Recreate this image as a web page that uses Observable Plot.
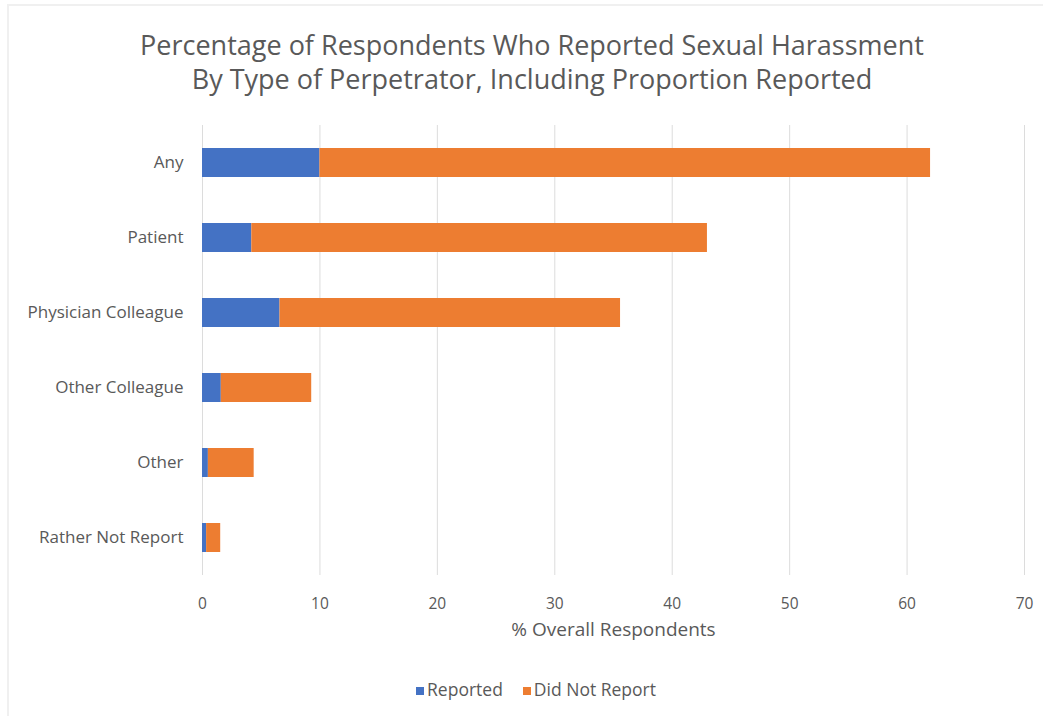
<!DOCTYPE html>
<html>
<head>
<meta charset="utf-8">
<script src="https://cdn.jsdelivr.net/npm/d3@7"></script>
<script src="https://cdn.jsdelivr.net/npm/@observablehq/plot@0.6"></script>
<style>
  html, body { margin: 0; padding: 0; background: #fff; }
  #frame { position: relative; width: 1049px; height: 723px; overflow: hidden; font-family: "Open Sans", sans-serif; color: #595959; }
  #border { position: absolute; left: 7px; top: 4px; width: 1036px; height: 712px; border-left: 2px solid #f0f0f0; border-top: 2px solid #f0f0f0; box-sizing: border-box; }
  #title { position: absolute; left: 0; width: 1064px; top: 28px; text-align: center; font-size: 27px; line-height: 34px; color: #595959; }
  #chart { position: absolute; left: 0; top: 110px; }
  #legend { position: absolute; top: 677px; left: 0; width: 1072px; text-align: center; font-size: 17.5px; color: #595959; }
  #legend span.item { margin: 0 10px; }
  #legend span.sw { display: inline-block; width: 8px; height: 8px; margin-right: 3px; vertical-align: 1px; }
</style>
</head>
<body>
<div id="frame">
  <div id="border"></div>
  <div id="title">Percentage of Respondents Who Reported Sexual Harassment<br>By Type of Perpetrator, Including Proportion Reported</div>
  <div id="chart"></div>
  <div id="legend"></div>
</div>
<script>
const categories = ["Any", "Patient", "Physician Colleague", "Other Colleague", "Other", "Rather Not Report"];
const series = ["Reported", "Did Not Report"];
const reported = [10.0, 4.2, 6.6, 1.6, 0.5, 0.35];
const didNotReport = [52.0, 38.8, 29.0, 7.7, 3.9, 1.2];
const xTicks = [0, 10, 20, 30, 40, 50, 60, 70];
const colors = ["#4472C4", "#ED7D31"];

const rows = [];
categories.forEach((c, i) => rows.push({category: c, series: series[0], value: reported[i]}));
categories.forEach((c, i) => rows.push({category: c, series: series[1], value: didNotReport[i]}));

const chart = Plot.plot({
  width: 1049,
  height: 540,
  marginLeft: 202,
  marginRight: 25,
  marginTop: 15,
  marginBottom: 75,
  style: {fontFamily: "Open Sans, sans-serif", fontSize: "17px", color: "#595959", background: "transparent"},
  x: {domain: [0, 70], ticks: xTicks, tickSize: 0, tickPadding: 22, label: "% Overall Respondents", labelAnchor: "center", labelArrow: "none", labelOffset: 60},
  y: {domain: categories, paddingInner: 0.62, paddingOuter: 0.31, tickSize: 0, tickPadding: 19, label: null},
  color: {domain: series, range: colors},
  marks: [
    Plot.gridX(xTicks, {stroke: "#dcdcdc", strokeOpacity: 1, strokeWidth: 1}),
    Plot.barX(rows, Plot.stackX({x: "value", y: "category", fill: "series", order: series}))
  ]
});
document.getElementById("chart").appendChild(chart);
chart.querySelectorAll("g[aria-label='x-axis label']").forEach(e => e.style.fontSize = "19px");
chart.querySelectorAll("g[aria-label='x-axis tick label']").forEach(e => e.style.fontSize = "15.5px");

const legend = document.getElementById("legend");
series.forEach((s, i) => {
  const item = document.createElement("span");
  item.className = "item";
  const sw = document.createElement("span");
  sw.className = "sw";
  sw.style.background = colors[i];
  item.appendChild(sw);
  item.appendChild(document.createTextNode(s));
  legend.appendChild(item);
});
</script>
</body>
</html>
